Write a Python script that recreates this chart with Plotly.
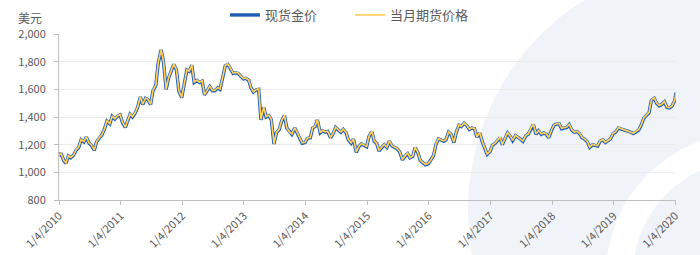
import pandas as pd
import plotly.graph_objects as go

# ---------------- data (semi-monthly readings, USD/oz) ----------------
spot_2010 = [1118,1138,1085,1065,1118,1105,1125,1160,1180,1235,1220,1255,1210,1195,1160,1220,1250,1270,1315,1370,1350,1405,1385,1405]
spot_2011 = [1415,1360,1325,1370,1420,1400,1430,1470,1545,1490,1535,1525,1490,1590,1630,1790,1885,1800,1600,1680,1730,1780,1740,1590]
spot_2012 = [1540,1640,1740,1730,1775,1650,1665,1650,1660,1560,1590,1620,1590,1590,1610,1600,1690,1770,1780,1750,1715,1720,1715,1695]
spot_2013 = [1675,1680,1665,1610,1580,1595,1600,1380,1470,1400,1410,1380,1205,1285,1310,1370,1410,1320,1290,1275,1320,1285,1240,1210]
spot_2014 = [1215,1245,1250,1320,1330,1380,1285,1300,1290,1295,1250,1275,1325,1305,1290,1310,1285,1235,1210,1240,1145,1185,1205,1195]
spot_2015 = [1185,1260,1295,1225,1210,1155,1185,1200,1180,1225,1190,1180,1170,1150,1090,1115,1135,1105,1115,1180,1140,1085,1065,1055]
spot_2016 = [1062,1085,1120,1200,1240,1235,1225,1235,1290,1275,1215,1290,1340,1330,1355,1340,1310,1320,1315,1255,1285,1225,1170,1130]
spot_2017 = [1150,1195,1210,1235,1250,1200,1245,1285,1260,1230,1265,1255,1240,1225,1265,1275,1320,1345,1275,1300,1275,1285,1275,1250]
spot_2018 = [1305,1340,1350,1350,1315,1320,1325,1345,1305,1290,1295,1280,1250,1240,1220,1180,1200,1195,1190,1225,1235,1215,1225,1240]
spot_2019 = [1280,1290,1320,1315,1310,1300,1295,1290,1280,1295,1305,1340,1390,1410,1430,1520,1535,1500,1480,1490,1510,1470,1465,1478]
spot_2020 = [1520,1575]

fut_2010 = [1121,1140,1087,1068,1120,1108,1127,1163,1182,1238,1223,1257,1212,1198,1163,1222,1253,1272,1317,1373,1352,1408,1387,1407]
fut_2011 = [1418,1362,1327,1373,1422,1403,1432,1473,1547,1493,1537,1528,1492,1593,1632,1793,1887,1803,1602,1683,1732,1783,1742,1593]
fut_2012 = [1542,1643,1742,1733,1777,1653,1667,1652,1663,1562,1593,1622,1592,1593,1612,1603,1692,1772,1783,1752,1718,1722,1718,1697]
fut_2013 = [1678,1682,1667,1613,1582,1597,1603,1383,1472,1403,1412,1383,1207,1287,1313,1372,1413,1322,1292,1278,1322,1288,1242,1213]
fut_2014 = [1217,1248,1252,1322,1333,1382,1287,1303,1292,1297,1253,1277,1327,1308,1292,1312,1288,1237,1213,1242,1148,1187,1208,1197]
fut_2015 = [1188,1262,1297,1228,1212,1158,1187,1203,1182,1227,1193,1182,1173,1152,1093,1117,1138,1107,1118,1182,1143,1087,1068,1057]
fut_2016 = [1065,1087,1123,1202,1243,1237,1228,1237,1293,1277,1218,1292,1343,1332,1358,1342,1313,1322,1318,1257,1288,1227,1173,1132]
fut_2017 = [1153,1197,1213,1237,1253,1202,1248,1287,1263,1232,1268,1257,1243,1227,1268,1277,1323,1347,1278,1302,1278,1287,1278,1252]
fut_2018 = [1308,1342,1353,1352,1318,1322,1328,1347,1308,1292,1298,1282,1253,1242,1223,1182,1203,1197,1193,1227,1238,1217,1228,1242]
fut_2019 = [1283,1292,1323,1317,1313,1302,1298,1292,1283,1297,1308,1342,1393,1412,1433,1522,1538,1502,1483,1492,1513,1472,1468,1480]
fut_2020 = [1523,1577]

tick_dates = ["2010-01-04","2011-01-04","2012-01-04","2013-01-04","2014-01-04","2015-01-04",
              "2016-01-04","2017-01-04","2018-01-04","2019-01-04","2020-01-04"]
tick_labels = ["1/4/2010","1/4/2011","1/4/2012","1/4/2013","1/4/2014","1/4/2015",
               "1/4/2016","1/4/2017","1/4/2018","1/4/2019","1/4/2020"]

series_names = ["现货金价", "当月期货价格"]
y_unit = "美元"

# ---------------- assemble ----------------
spot = (spot_2010 + spot_2011 + spot_2012 + spot_2013 + spot_2014 + spot_2015 +
        spot_2016 + spot_2017 + spot_2018 + spot_2019 + spot_2020)
fut = (fut_2010 + fut_2011 + fut_2012 + fut_2013 + fut_2014 + fut_2015 +
       fut_2016 + fut_2017 + fut_2018 + fut_2019 + fut_2020)

dates = list(pd.date_range("2010-01-01", "2019-12-15", freq="SMS"))
dates[0] = pd.Timestamp("2010-01-04")
dates += [pd.Timestamp("2020-01-01"), pd.Timestamp("2020-01-08")]

BLUE = "#1F5CB4"
YELLOW = "#FFD05E"
TXT = "#595959"
FONT = "Noto Sans CJK SC, Microsoft YaHei, sans-serif"

fig = go.Figure()
fig.add_trace(go.Scatter(x=dates, y=spot, mode="lines", name=series_names[0],
                         line=dict(color=BLUE, width=3.4)))
fig.add_trace(go.Scatter(x=dates, y=fut, mode="lines", name=series_names[1],
                         line=dict(color=YELLOW, width=1.7)))

# plot area in pixels: x 59..676, y 34..200
L, R, T, B = 59, 676, 34, 200
W, H = 700, 255


def px_box(x0, y0, x1, y1):
    return dict(x0=(x0 - L) / (R - L), x1=(x1 - L) / (R - L),
                y0=(B - y0) / (B - T), y1=(B - y1) / (B - T))


wm_light = "#F0F4F9"
shapes = [
    dict(type="circle", xref="paper", yref="paper", layer="below", line=dict(width=0),
         fillcolor=wm_light, **px_box(468, -35, 950, 455)),
    dict(type="circle", xref="paper", yref="paper", layer="below", line=dict(width=0),
         fillcolor="#FFFFFF", **px_box(606, 133, 890, 417)),
    dict(type="circle", xref="paper", yref="paper", layer="below", line=dict(width=0),
         fillcolor=wm_light, **px_box(633, 160, 863, 390)),
]

fig.update_layout(
    width=W, height=H,
    margin=dict(l=L, r=W - R, t=T, b=H - B, autoexpand=False),
    paper_bgcolor="#FFFFFF",
    plot_bgcolor="rgba(0,0,0,0)",
    font=dict(family=FONT, color=TXT, size=11),
    showlegend=True,
    legend=dict(orientation="h", xref="container", yref="container",
                x=0.5, xanchor="center", y=1.0, yanchor="top",
                font=dict(size=13, color=TXT), bgcolor="rgba(0,0,0,0)",
                itemwidth=30, tracegroupgap=0, entrywidth=80),
    shapes=shapes,
    annotations=[dict(text=y_unit, xref="paper", yref="paper",
                      x=(30 - L) / (R - L), y=(B - 17) / (B - T),
                      xanchor="center", yanchor="middle", showarrow=False,
                      font=dict(size=12, color=TXT))],
)

fig.update_xaxes(
    type="date", range=["2010-01-04", "2020-01-08"], automargin=False,
    tickvals=tick_dates, ticktext=tick_labels, tickangle=-45,
    showgrid=False, zeroline=False,
    showline=True, linecolor="#BFBFBF", linewidth=1,
    ticks="outside", ticklen=4, tickcolor="#BFBFBF",
    tickfont=dict(size=11, color=TXT),
)
fig.update_yaxes(
    range=[800, 2000], dtick=200, tickformat=",d", automargin=False,
    showgrid=True, gridcolor="#EBEBEB", gridwidth=1, zeroline=False,
    showline=True, linecolor="#BFBFBF", linewidth=1,
    ticks="outside", ticklen=4, tickcolor="#BFBFBF",
    ticklabelstandoff=6,
    tickfont=dict(size=11, color=TXT),
)

fig.write_html("out.html")
